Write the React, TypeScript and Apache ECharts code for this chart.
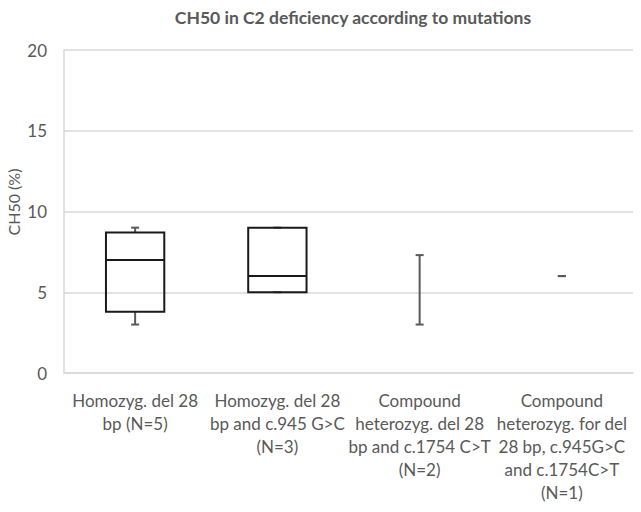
import React, { useEffect, useRef } from "react";
import * as echarts from "echarts";

const categories = [
  "Homozyg. del 28\nbp (N=5)",
  "Homozyg. del 28\nbp and c.945 G>C\n(N=3)",
  "Compound\nheterozyg. del 28\nbp and c.1754 C>T\n(N=2)",
  "Compound\nheterozyg. for del\n28 bp, c.945G>C\nand c.1754C>T\n(N=1)",
];
const mins = [3.0, 5.0, 3.0, 6.0];
const q1s: (number | null)[] = [3.8, 5.0, null, null];
const medians: (number | null)[] = [7.0, 6.0, null, null];
const q3s: (number | null)[] = [8.7, 9.0, null, null];
const maxs = [9.0, 9.0, 7.3, 6.0];
const yTicks = [0, 5, 10, 15, 20];

const FONT = "Lato, 'Open Sans', sans-serif";
const GRAY = "#595959";

export default function App() {
  const ref = useRef<HTMLDivElement>(null);
  useEffect(() => {
    const chart = echarts.init(ref.current!, null, { renderer: "svg" });
    chart.setOption({
      animation: false,
      backgroundColor: "#ffffff",
      textStyle: { fontFamily: FONT },
      title: {
        text: "CH50 in C2 deficiency according to mutations",
        left: 348,
        textAlign: "center",
        top: 3,
        textStyle: { fontFamily: FONT, fontSize: 17.5, fontWeight: "bold", color: GRAY },
      },
      graphic: [
        {
          type: "text",
          x: 13,
          y: 202,
          rotation: Math.PI / 2,
          style: {
            text: "CH50 (%)",
            fill: GRAY,
            font: `16px ${FONT}`,
            textAlign: "center",
            textVerticalAlign: "middle",
          },
        },
      ],
      grid: { left: 64, right: 8, top: 50, bottom: 139, containLabel: false },
      xAxis: {
        type: "category",
        data: categories,
        axisTick: { show: false },
        axisLine: { show: true, lineStyle: { color: "#d9d9d9", width: 1.5 } },
        axisLabel: {
          interval: 0,
          color: GRAY,
          fontSize: 17,
          lineHeight: 23,
          margin: 16,
          fontFamily: FONT,
          align: "center",
        },
      },
      yAxis: {
        type: "value",
        min: yTicks[0],
        max: yTicks[yTicks.length - 1],
        interval: 5,
        axisLine: { show: true, lineStyle: { color: "#d9d9d9", width: 1.5 } },
        axisTick: { show: false },
        axisLabel: { color: GRAY, fontSize: 17, margin: 17, fontFamily: FONT },
        splitLine: { show: true, lineStyle: { color: "#d9d9d9", width: 1.5 } },
      },
      series: [
        {
          type: "custom",
          data: categories.map((_, i) => [i, mins[i], maxs[i]]),
          encode: { x: 0, y: [1, 2] },
          renderItem: (params: any, api: any) => {
            const i = params.dataIndex;
            const bandW = api.size([1, 0])[0];
            const boxW = bandW * 0.41;
            const capW = 8;
            const pMin = api.coord([i, mins[i]]);
            const pMax = api.coord([i, maxs[i]]);
            const cx = pMin[0];
            const children: any[] = [];
            const wStyle = { stroke: GRAY, lineWidth: 2 };
            const q1 = q1s[i];
            const q3 = q3s[i];
            const med = medians[i];
            if (q1 !== null && q3 !== null) {
              const pQ1 = api.coord([i, q1]);
              const pQ3 = api.coord([i, q3]);
              children.push({ type: "line", shape: { x1: cx, y1: pMin[1], x2: cx, y2: pQ1[1] }, style: wStyle });
              children.push({ type: "line", shape: { x1: cx, y1: pQ3[1], x2: cx, y2: pMax[1] }, style: wStyle });
              children.push({ type: "line", shape: { x1: cx - capW / 2, y1: pMin[1], x2: cx + capW / 2, y2: pMin[1] }, style: wStyle });
              children.push({ type: "line", shape: { x1: cx - capW / 2, y1: pMax[1], x2: cx + capW / 2, y2: pMax[1] }, style: wStyle });
              children.push({
                type: "rect",
                shape: { x: cx - boxW / 2, y: pQ3[1], width: boxW, height: pQ1[1] - pQ3[1] },
                style: { fill: "transparent", stroke: "#1a1a1a", lineWidth: 2 },
              });
              if (med !== null) {
                const pMed = api.coord([i, med]);
                children.push({
                  type: "line",
                  shape: { x1: cx - boxW / 2, y1: pMed[1], x2: cx + boxW / 2, y2: pMed[1] },
                  style: { stroke: "#1a1a1a", lineWidth: 2 },
                });
              }
            } else {
              children.push({ type: "line", shape: { x1: cx, y1: pMin[1], x2: cx, y2: pMax[1] }, style: wStyle });
              children.push({ type: "line", shape: { x1: cx - capW / 2, y1: pMin[1], x2: cx + capW / 2, y2: pMin[1] }, style: wStyle });
              children.push({ type: "line", shape: { x1: cx - capW / 2, y1: pMax[1], x2: cx + capW / 2, y2: pMax[1] }, style: wStyle });
            }
            return { type: "group", children };
          },
        },
      ],
    });
    return () => chart.dispose();
  }, []);
  return (
    <div
      ref={ref}
      style={{ position: "fixed", left: 0, top: 0, width: 641, height: 512, background: "#fff" }}
    />
  );
}
